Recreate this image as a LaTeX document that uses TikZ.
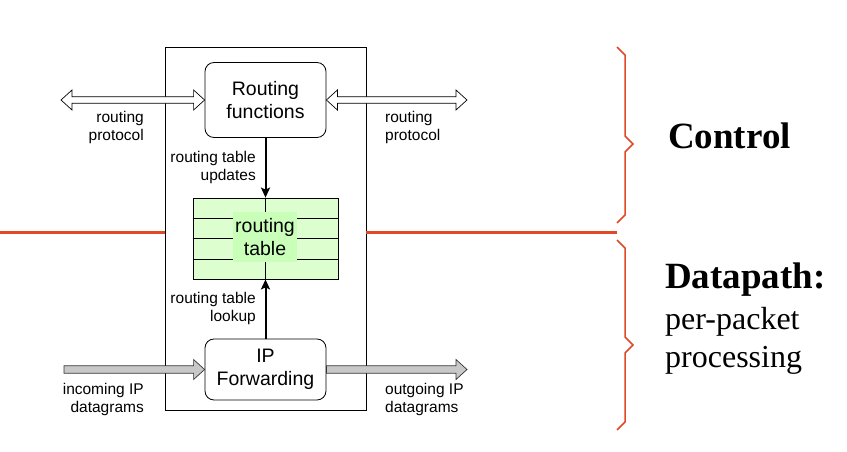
\documentclass[tikz,border=0pt]{standalone}
\usepackage{fontspec}
\setmainfont{Liberation Serif}
\setsansfont{Liberation Sans}
\usepackage{tikz}
\usetikzlibrary{positioning,calc,arrows.meta}
\definecolor{splitred}{RGB}{224,72,40}
\definecolor{tablegreen}{RGB}{221,255,208}
\definecolor{textgreen}{RGB}{202,255,186}
\definecolor{arrowgray}{RGB}{200,200,200}

\begin{document}
\begin{tikzpicture}[x=1pt, y=-1pt, node distance=4pt, font=\sffamily]
	% Define styles for boxes and arrows
	\tikzset{
		mainbox/.style={
			rectangle,
			draw,
			line width=0.8pt,
			minimum width=201pt,
			minimum height=363pt,
			inner sep=0pt
		},
		funcbox/.style={
			rectangle,
			draw,
			fill=white,
			rounded corners=9pt,
			line width=0.8pt,
			minimum width=121pt,
			align=center,
			inner sep=0pt,
			font=\sffamily\fontsize{19.5}{23}\selectfont
		},
		tablebox/.style={
			rectangle,
			draw,
			fill=tablegreen,
			line width=0.8pt,
			minimum width=145pt,
			minimum height=81pt,
			inner sep=0pt
		},
		tabletext/.style={
			rectangle,
			fill=textgreen,
			minimum width=64pt,
			minimum height=50pt,
			align=center,
			inner sep=0pt,
			font=\sffamily\fontsize{19.5}{22}\selectfont
		},
		smalllabel/.style={
			align=right,
			inner sep=0pt,
			font=\sffamily\fontsize{15.5}{18}\selectfont
		},
		ctrlarrow/.style={
			line width=2pt,
			-{Stealth[length=10pt,width=9pt,inset=2pt]}
		},
		hollowarrow/.style={draw, fill=white, line width=0.7pt},
		grayarrow/.style={draw=black!80, fill=arrowgray, line width=0.7pt},
		splitline/.style={draw=splitred, line width=3pt},
		bracket/.style={draw=splitred, line width=1.5pt},
		bigword/.style={anchor=west, inner sep=0pt, font=\rmfamily\bfseries\fontsize{37}{40}\selectfont}
	}
	\useasboundingbox (0,0) rectangle (847,452);

	% router and its parts
	\node[mainbox] (router) at (265.5,228.5) {};
	\node[funcbox, minimum height=75pt] (routing) at (265.5,100) {Routing\\functions};
	\node[funcbox, minimum height=61pt] (fwd) at (265.5,369.5) {IP\\Forwarding};
	\node[tablebox] (tbl) at (265.5,238.5) {};

	% table rows
	\foreach \k in {1,2,3}
		\draw[line width=0.8pt] ($(tbl.north west)!\k/4!(tbl.south west)$) -- ($(tbl.north east)!\k/4!(tbl.south east)$);
	\draw[line width=0.8pt] (tbl.north) -- (tbl.south);
	\node[tabletext] (tbltext) at (265,237) {\raisebox{-2pt}{\shortstack{routing\\[1pt]table}}};

	% table arrows
	\draw[ctrlarrow] (routing) -- (tbl);
	\draw[ctrlarrow] (fwd) -- (tbl);
	\node[smalllabel, anchor=east] (updlabel) at (256,167.5) {routing table\\updates};
	\node[smalllabel, anchor=east] (looklabel) at (256,308) {routing table\\lookup};

	% routing protocol arrows
	\coordinate (protoL) at (61,100);
	\coordinate (protoR) at (467,100);
	\draw[hollowarrow] let \p1=(protoL), \p2=(routing.west) in
		(\x1,\y1) -- (\x1+11pt,\y1+10pt) -- (\x1+11pt,\y1+3.3pt) -- (\x2-11pt,\y1+3.3pt) -- (\x2-11pt,\y1+10pt) -- (\x2,\y1)
		-- (\x2-11pt,\y1-10pt) -- (\x2-11pt,\y1-3.3pt) -- (\x1+11pt,\y1-3.3pt) -- (\x1+11pt,\y1-10pt) -- cycle;
	\draw[hollowarrow] let \p1=(routing.east), \p2=(protoR) in
		(\x1,\y1) -- (\x1+11pt,\y1+10pt) -- (\x1+11pt,\y1+3.3pt) -- (\x2-11pt,\y1+3.3pt) -- (\x2-11pt,\y1+10pt) -- (\x2,\y1)
		-- (\x2-11pt,\y1-10pt) -- (\x2-11pt,\y1-3.3pt) -- (\x1+11pt,\y1-3.3pt) -- (\x1+11pt,\y1-10pt) -- cycle;
	\node[smalllabel, anchor=east] (protoLlabel) at (144,127.5) {routing\\protocol};
	\node[smalllabel, anchor=west, align=left] (protoRlabel) at (385,127.5) {routing\\protocol};

	% datagram arrows
	\coordinate (inL) at (64,369.5);
	\coordinate (outR) at (467,369.5);
	\draw[grayarrow] let \p1=(inL), \p2=(fwd.west) in
		(\x1,\y1+3.7pt) -- (\x2-11pt,\y1+3.7pt) -- (\x2-11pt,\y1+10pt) -- (\x2,\y1)
		-- (\x2-11pt,\y1-10pt) -- (\x2-11pt,\y1-3.7pt) -- (\x1,\y1-3.7pt) -- cycle;
	\draw[grayarrow] let \p1=(fwd.east), \p2=(outR) in
		(\x1,\y1+3.7pt) -- (\x2-11pt,\y1+3.7pt) -- (\x2-11pt,\y1+10pt) -- (\x2,\y1)
		-- (\x2-11pt,\y1-10pt) -- (\x2-11pt,\y1-3.7pt) -- (\x1,\y1-3.7pt) -- cycle;
	\node[smalllabel, anchor=east] (inlabel) at (144,399.5) {incoming IP\\datagrams};
	\node[smalllabel, anchor=west, align=left] (outlabel) at (385,399.5) {outgoing IP\\datagrams};

	% control / datapath split
	\coordinate (splitL) at (0,232);
	\coordinate (splitR) at (617,232);
	\draw[splitline] (splitL) -- (splitL -| router.west);
	\draw[splitline] (splitR -| router.east) -- (splitR);

	% brackets
	\draw[bracket] (617,47) -- (625,55) -- (625,136) -- (633,144) -- (625,152) -- (625,215) -- (617,223);
	\draw[bracket] (617,240) -- (625,248) -- (625,337) -- (633,345) -- (625,353) -- (625,422) -- (617,430);

	% side words
	\node[bigword] (ctrlword) at (668,136) {Control};
	\node[bigword] (dataword) at (665,280) {Datapath:};
	\node[anchor=west, inner sep=0pt, align=left, font=\rmfamily\fontsize{32}{38}\selectfont] (dataproc) at (665,341) {per-packet\\processing};
\end{tikzpicture}
\end{document}
